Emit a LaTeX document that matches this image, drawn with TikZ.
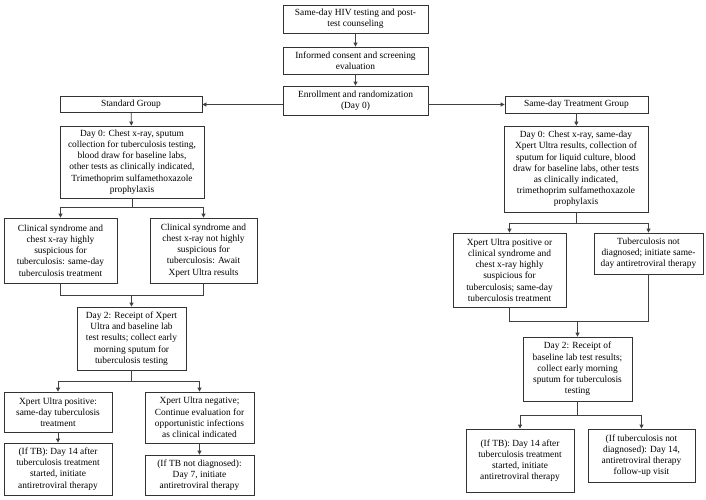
\documentclass[tikz,border=0pt]{standalone}
\usepackage{fontspec}
\setmainfont{Liberation Serif}
\usepackage{tikz}
\usetikzlibrary{arrows.meta}

\begin{document}
\begin{tikzpicture}[x=1pt, y=-1pt,
    box/.style={draw=black!80, line width=0.8pt, align=center, inner sep=2pt,
      font=\fontsize{9.4}{11.2}\selectfont},
    link/.style={draw=black!75, line width=0.8pt},
    arr/.style={link, -{Triangle[length=4pt,width=4pt]}}]
  \useasboundingbox (0,0) rectangle (706,499);

  % common trunk
  \node[box, minimum width=145, minimum height=28] (hiv) at (355.5,19) {Same-day HIV testing and post-\\test counseling};
  \node[box, minimum width=145, minimum height=27] (consent) at (355.5,60.5) {Informed consent and screening\\evaluation};
  \node[box, minimum width=145, minimum height=29] (enroll) at (355.5,100.5) {Enrollment and randomization\\(Day 0)};
  \draw[arr] (hiv) -- (consent);
  \draw[arr] (consent) -- (enroll);

  % standard group
  \node[box, minimum width=142, minimum height=16] (stdgrp) at (131,104.5) {Standard Group};
  \node[box, minimum width=144, minimum height=72] (stdday0) at (132,162) {Day 0: Chest x-ray, sputum\\collection for tuberculosis testing,\\blood draw for baseline labs,\\other tests as clinically indicated,\\Trimethoprim sulfamethoxazole\\prophylaxis};
  \node[box, minimum width=113, minimum height=65] (stdsusp) at (60.5,250.5) {Clinical syndrome and\\chest x-ray highly\\suspicious for\\tuberculosis: same-day\\tuberculosis treatment};
  \node[box, minimum width=107, minimum height=65] (stdawait) at (203.5,250.5) {Clinical syndrome and\\chest x-ray not highly\\suspicious for\\tuberculosis: Await\\Xpert Ultra results};
  \node[box, minimum width=109, minimum height=63] (stdday2) at (131.5,338.5) {Day 2: Receipt of Xpert\\Ultra and baseline lab\\test results; collect early\\morning sputum for\\tuberculosis testing};
  \node[box, minimum width=108, minimum height=40] (stdpos) at (58,412) {Xpert Ultra positive:\\same-day tuberculosis\\treatment};
  \node[box, minimum width=109, minimum height=51] (stdneg) at (199.5,417.5) {Xpert Ultra negative;\\Continue evaluation for\\opportunistic infections\\as clinical indicated};
  \node[box, minimum width=108, minimum height=52] (stdtb) at (58,469) {(If TB): Day 14 after\\tuberculosis treatment\\started, initiate\\antiretroviral therapy};
  \node[box, minimum width=109, minimum height=40] (stdnotb) at (199.5,475) {(If TB not diagnosed):\\Day 7, initiate\\antiretroviral therapy};

  \draw[arr] (enroll.west |- stdgrp) -- (stdgrp.east);
  \draw[arr] (stdgrp) -- (stdday0);
  \draw[link] (stdday0.south) -- ++(0,9) coordinate (stdsplit);
  \draw[arr] (stdsplit) -| (stdsusp.north);
  \draw[arr] (stdsplit) -| (stdawait.north);
  \path (stdday2.north) ++(0,-11) coordinate (stdjoin);
  \draw[link] (stdsusp.south) |- (stdjoin) -| (stdawait.south);
  \draw[arr] (stdjoin) -- (stdday2.north);
  \draw[link] (stdday2.south) -- ++(0,11) coordinate (stdsplitb);
  \draw[arr] (stdsplitb) -| (stdpos.north);
  \draw[arr] (stdsplitb) -| (stdneg.north);
  \draw[arr] (stdpos) -- (stdtb);
  \draw[arr] (stdneg) -- (stdnotb);

  % same-day treatment group
  \node[box, minimum width=143, minimum height=17] (sdgrp) at (576.5,104.5) {Same-day Treatment Group};
  \node[box, minimum width=144, minimum height=86] (sdday0) at (576,169) {Day 0: Chest x-ray, same-day\\Xpert Ultra results, collection of\\sputum for liquid culture, blood\\draw for baseline labs, other tests\\as clinically indicated,\\trimethoprim sulfamethoxazole\\prophylaxis};
  \node[box, minimum width=113, minimum height=74] (sdpos) at (509.5,270) {Xpert Ultra positive or\\clinical syndrome and\\chest x-ray highly\\suspicious for\\tuberculosis; same-day\\tuberculosis treatment};
  \node[box, minimum width=109, minimum height=41] (sdneg) at (648.5,253.5) {Tuberculosis not\\diagnosed; initiate same-\\day antiretroviral therapy};
  \node[box, minimum width=109, minimum height=64] (sdday2) at (577.5,369) {Day 2: Receipt of\\baseline lab test results;\\collect early morning\\sputum for tuberculosis\\testing};
  \node[box, minimum width=108, minimum height=63] (sdtb) at (520,460.5) {(If TB): Day 14 after\\tuberculosis treatment\\started, initiate\\antiretroviral therapy};
  \node[box, minimum width=107, minimum height=53] (sdnotb) at (641.5,455.5) {(If tuberculosis not\\diagnosed): Day 14,\\antiretroviral therapy\\follow-up visit};

  \draw[arr] (enroll.east |- sdgrp) -- (sdgrp.west);
  \draw[arr] (sdgrp) -- (sdday0);
  \draw[link] (sdday0.south) -- ++(0,11) coordinate (sdsplit);
  \draw[arr] (sdsplit) -| (sdpos.north);
  \draw[arr] (sdsplit) -| (sdneg.north);
  \path (sdday2.north) ++(0,-15) coordinate (sdjoin);
  \draw[link] (sdpos.south) |- (sdjoin) -| (sdneg.south);
  \draw[arr] (sdjoin) -- (sdday2.north);
  \draw[link] (sdday2.south) -- ++(0,14) coordinate (sdsplitb);
  \draw[arr] (sdsplitb) -| (sdtb.north);
  \draw[arr] (sdsplitb) -| (sdnotb.north);
\end{tikzpicture}
\end{document}
